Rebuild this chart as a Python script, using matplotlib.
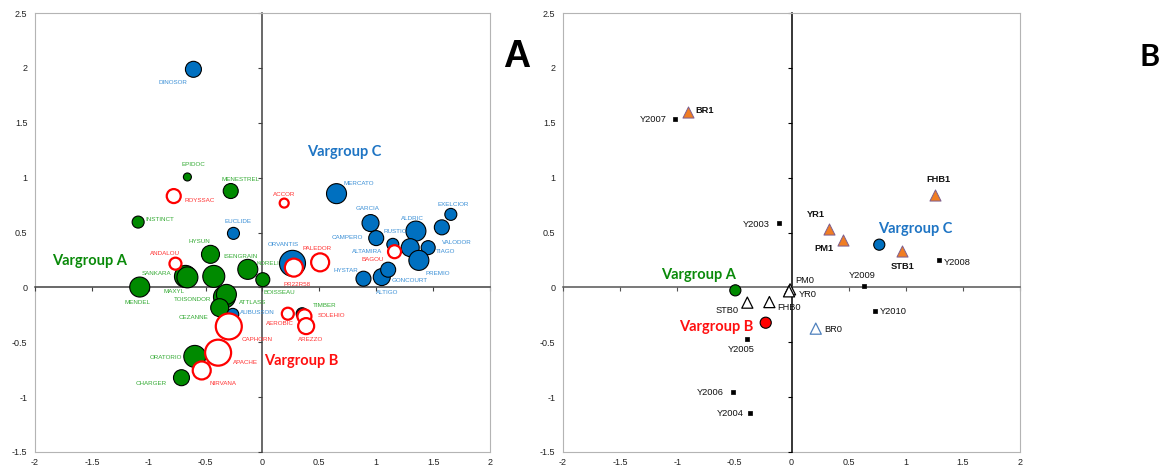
import numpy as np
import matplotlib.pyplot as plt

plt.rcParams['font.family'] = ['Liberation Sans', 'DejaVu Sans']

# ---- panel A: varieties (bubble chart) ----
# name, x, y, bubble size
blue_names = ["DINOSOR", "EUCLIDE", "ORVANTIS", "MERCATO", "GARCIA", "CAMPERO", "RUSTIC",
              "ALDRIC", "EXELCIOR", "VALODOR", "TIAGO", "ALTAMIRA", "PREMIO", "HYSTAR",
              "ALTIGO", "GONCOURT", "AUBUSSON", ""]
blue_x = [-0.607, -0.255, 0.264, 0.651, 0.950, 1.000, 1.146, 1.349, 1.656, 1.577, 1.457,
          1.299, 1.375, 0.888, 1.049, 1.105, -0.261, 0.349]
blue_y = [1.987, 0.492, 0.219, 0.854, 0.586, 0.449, 0.392, 0.513, 0.665, 0.547, 0.362,
          0.362, 0.246, 0.079, 0.094, 0.161, -0.246, -0.240]
blue_size = [8, 6, 13, 10, 8.5, 7.5, 6, 10, 6, 7.5, 7, 9, 10, 7.5, 8.5, 7.5, 6, 6]

green_names = ["EPIDOC", "MENESTREL", "INSTINCT", "HYSUN", "SANKARA", "MAXYL", "ISENGRAIN",
               "KORELI", "BOISSEAU", "MENDEL", "TOISONDOR", "ATTLASS", "CEZANNE",
               "ORATORIO", "CHARGER", "TIMBER"]
green_x = [-0.660, -0.279, -1.093, -0.457, -0.677, -0.660, -0.428, -0.129, 0.003, -1.079,
           -0.334, -0.317, -0.376, -0.595, -0.712, 0.352]
green_y = [1.006, 0.878, 0.595, 0.301, 0.100, 0.091, 0.100, 0.164, 0.070, 0.003, -0.088,
           -0.064, -0.185, -0.629, -0.823, -0.246]
green_size = [4, 7.5, 6, 9, 11, 10.5, 11, 10, 7, 10, 11, 10, 9, 11, 8, 5.5]

red_names = ["ROYSSAC", "ACCOR", "ANDALOU", "PR22R58", "PALEDOR", "BAGOU", "AEROBIC",
             "SOLEHIO", "AREZZO", "CAPHORN", "APACHE", "NIRVANA"]
red_x = [-0.780, 0.191, -0.765, 0.276, 0.507, 1.161, 0.223, 0.369, 0.384, -0.296, -0.390, -0.534]
red_y = [0.832, 0.768, 0.216, 0.180, 0.228, 0.325, -0.240, -0.264, -0.353, -0.356, -0.595, -0.757]
red_size = [7, 4.5, 6, 9, 9, 6.5, 6, 7, 8, 13, 13, 9]

# label offsets (pixels, y up)
label_offsets_a = {
    "DINOSOR": (-20, -13), "EUCLIDE": (5, 12), "ORVANTIS": (-9, 19), "MERCATO": (22, 10),
    "GARCIA": (-3, 15), "CAMPERO": (-29, 1), "RUSTIC": (2, 13), "ALDRIC": (-3, 13),
    "EXELCIOR": (2, 10), "VALODOR": (15, -15), "TIAGO": (17, -4), "ALTAMIRA": (-43, -4),
    "PREMIO": (19, -13), "HYSTAR": (-18, 8), "ALTIGO": (5, -15), "GONCOURT": (22, -11),
    "AUBUSSON": (25, 2),
    "EPIDOC": (6, 12), "MENESTREL": (10, 12), "INSTINCT": (22, 3), "HYSUN": (-11, 13),
    "SANKARA": (-29, 3), "MAXYL": (-13, -14), "ISENGRAIN": (27, 20), "KORELI": (20, 6),
    "BOISSEAU": (17, -13), "MENDEL": (-2, -15), "TOISONDOR": (-32, -2), "ATTLASS": (26, -8),
    "CEZANNE": (-26, -10), "ORATORIO": (-29, -1), "CHARGER": (-30, -6), "TIMBER": (22, 9),
    "ROYSSAC": (26, -4), "ACCOR": (0, 9), "ANDALOU": (-10, 10), "PR22R58": (3, -17),
    "PALEDOR": (-3, 14), "BAGOU": (-22, -8), "AEROBIC": (-8, -10), "SOLEHIO": (27, 1),
    "AREZZO": (4, -13), "CAPHORN": (28, -13), "APACHE": (27, -10), "NIRVANA": (21, -13),
}

# ---- panel B: factors ----
orange_names = ["BR1", "YR1", "PM1", "STB1", "FHB1"]
orange_x = [-0.906, 0.328, 0.453, 0.965, 1.253]
orange_y = [1.598, 0.535, 0.435, 0.331, 0.841]

white_names = ["STB0", "FHB0", "PM0", "YR0", "BR0"]
white_x = [-0.387, -0.194, -0.013, -0.022, 0.212]
white_y = [-0.139, -0.134, -0.018, -0.036, -0.376]

year_names = ["Y2007", "Y2003", "Y2005", "Y2006", "Y2004", "Y2009", "Y2010", "Y2008"]
year_x = [-1.020, -0.109, -0.392, -0.515, -0.363, 0.635, 0.731, 1.291]
year_y = [1.531, 0.586, -0.474, -0.957, -1.146, 0.012, -0.216, 0.246]

group_names = ["Vargroup A", "Vargroup B", "Vargroup C"]
group_x = [-0.492, -0.226, 0.768]
group_y = [-0.027, -0.322, 0.389]

label_offsets_b = {
    "BR1": (17, 2), "YR1": (-13, 14), "PM1": (-19, -9), "STB1": (1, -15), "FHB1": (4, 16),
    "STB0": (-20, -8), "FHB0": (20, -5), "PM0": (15, 9), "YR0": (19, -3), "BR0": (17, -1),
    "Y2007": (-22, 0), "Y2003": (-23, -1), "Y2005": (-5, -10), "Y2006": (-22, 0),
    "Y2004": (-20, 0), "Y2009": (-2, 11), "Y2010": (18, 0), "Y2008": (18, -2),
    "Vargroup A": (-37, 15), "Vargroup B": (-49, -4), "Vargroup C": (36, 16),
}

xticks = [-2, -1.5, -1, -0.5, 0, 0.5, 1, 1.5, 2]
yticks = [-1.5, -1, -0.5, 0, 0.5, 1, 1.5, 2, 2.5]
tick_labels_x = ["-2", "-1.5", "-1", "-0.5", "0", "0.5", "1", "1.5", "2"]
tick_labels_y = ["-1.5", "-1", "-0.5", "0", "0.5", "1", "1.5", "2", "2.5"]

C_BLUE = '#0070C0'
C_GREEN = '#008A00'
C_RED = '#FF0000'
L_BLUE = '#3A8FD6'
L_GREEN = '#33AA33'
L_RED = '#FF3333'
FRAME = '#B4B4B4'
PX = 0.72  # points per pixel at dpi 100


def _setup_axes(ax, vline_color, hline_color):
    ax.set_xlim(-2, 2)
    ax.set_ylim(-1.5, 2.5)
    for side in ('top', 'right'):
        ax.spines[side].set_color(FRAME)
    ax.spines['left'].set_position(('data', 0))
    ax.spines['bottom'].set_position(('data', 0))
    ax.spines['left'].set_color(vline_color)
    ax.spines['bottom'].set_color(hline_color)
    ax.spines['left'].set_linewidth(1.1)
    ax.spines['bottom'].set_linewidth(1.1)
    ax.set_xticks(xticks)
    ax.set_yticks(yticks)
    ax.tick_params(axis='y', direction='out', length=3, color=vline_color,
                   labelleft=False)
    ax.tick_params(axis='x', direction='out', length=3, color=hline_color,
                   labelbottom=False)

    sx = ax.secondary_xaxis('bottom')
    sx.set_xticks(xticks, tick_labels_x)
    sx.tick_params(length=0, labelsize=6.5, pad=4, labelcolor='#222222')
    sx.spines['bottom'].set_color(FRAME)
    sy = ax.secondary_yaxis('left')
    sy.set_yticks(yticks, tick_labels_y)
    sy.tick_params(length=0, labelsize=6.5, pad=5.5, labelcolor='#222222')
    sy.spines['left'].set_color(FRAME)


def _bubbles(ax, xs, ys, sizes, face, edge, lw):
    s = [(2 * r * PX) ** 2 for r in sizes]
    ax.scatter(xs, ys, s=s, facecolor=face, edgecolor=edge, linewidths=lw, zorder=3)


def _labels(ax, names, xs, ys, offsets, color, size, weight='normal'):
    for n, x, y in zip(names, xs, ys):
        if not n:
            continue
        dx, dy = offsets[n]
        ax.annotate(n, (x, y), xytext=(dx * PX, dy * PX), textcoords='offset points',
                    ha='center', va='center', fontsize=size, color=color,
                    fontweight=weight, zorder=5)


fig = plt.figure(figsize=(11.66, 4.68), dpi=100)
ax_a = fig.add_axes([0.0300, 0.0342, 0.3902, 0.938])
ax_b = fig.add_axes([0.4829, 0.0342, 0.3919, 0.938])

# panel A
_setup_axes(ax_a, '#404040', '#404040')
_bubbles(ax_a, blue_x, blue_y, blue_size, C_BLUE, 'black', 0.8)
_bubbles(ax_a, green_x, green_y, green_size, C_GREEN, 'black', 0.8)
_bubbles(ax_a, red_x, red_y, red_size, 'white', C_RED, 1.6)
_labels(ax_a, blue_names, blue_x, blue_y, label_offsets_a, L_BLUE, 4.5)
_labels(ax_a, green_names, green_x, green_y, label_offsets_a, L_GREEN, 4.5)
_labels(ax_a, red_names, red_x, red_y, label_offsets_a, L_RED, 4.5)

ax_a.text(-1.52, 0.237, "Vargroup A", color='#0A8A0A', fontsize=10.5,
          fontweight='bold', family='Lato', ha='center', va='center')
ax_a.text(0.721, 1.231, "Vargroup C", color='#1F75C4', fontsize=10.5,
          fontweight='bold', family='Lato', ha='center', va='center')
ax_a.text(0.343, -0.675, "Vargroup B", color='#FF1010', fontsize=10.5,
          fontweight='bold', family='Lato', ha='center', va='center')

# panel B
_setup_axes(ax_b, 'black', '#555555')
ax_b.scatter(year_x, year_y, marker='s', s=9, facecolor='black', edgecolor='black',
             linewidths=0.5, zorder=3)
ax_b.scatter(white_x, white_y, marker='^', s=64, facecolor='white',
             edgecolor=['black', 'black', 'black', 'black', '#4F81BD'],
             linewidths=0.9, zorder=3)
ax_b.scatter(orange_x, orange_y, marker='^', s=64, facecolor='#F07D23',
             edgecolor='#7E5E8E', linewidths=0.7, zorder=3)
ax_b.scatter(group_x, group_y, marker='o', s=64, facecolor=[C_GREEN, C_RED, C_BLUE],
             edgecolor='black', linewidths=0.8, zorder=4)

_labels(ax_b, year_names, year_x, year_y, label_offsets_b, '#111111', 6.7)
_labels(ax_b, white_names, white_x, white_y, label_offsets_b, '#111111', 6.7)
_labels(ax_b, orange_names, orange_x, orange_y, label_offsets_b, '#111111', 6.7, 'bold')
for n, x, y, c in zip(group_names, group_x, group_y, ['#0A8A0A', '#FF1010', '#1F75C4']):
    dx, dy = label_offsets_b[n]
    ax_b.annotate(n, (x, y), xytext=(dx * PX, dy * PX), textcoords='offset points',
                  ha='center', va='center', fontsize=10.5, color=c,
                  fontweight='bold', family='Lato', zorder=5)

fig.text(517 / 1166, 1 - 57 / 468, "A", fontsize=27, fontweight='bold',
         ha='center', va='center')
fig.text(1150 / 1166, 1 - 57 / 468, "B", fontsize=22, fontweight='bold',
         family='Lato', ha='center', va='center')

fig.savefig("out.png", dpi=100)
